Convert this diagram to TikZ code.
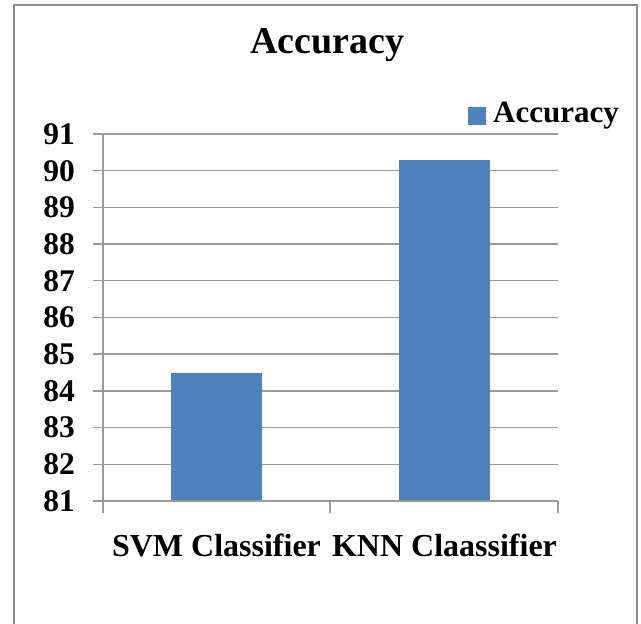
\documentclass[tikz,border=0pt]{standalone}
\usepackage{fontspec}
\setmainfont{Liberation Serif}
\usepackage{xcolor}
\usepackage{tikz}
\usetikzlibrary{calc}
\definecolor{bg}{HTML}{FFFFFF}
\definecolor{frame}{HTML}{8C8C8C}
\definecolor{gridc}{HTML}{9A9A9A}
\definecolor{barc}{HTML}{4F81BD}
\definecolor{text}{HTML}{000000}
\tikzset{
  frm/.style={draw=frame, line width=2pt},
  grid/.style={draw=gridc, line width=1.4pt},
  axis/.style={draw=gridc, line width=1.4pt},
  bar/.style={fill=barc, draw=none},
  lab/.style={text=text, font=\fontsize{31.5}{31.5}\selectfont\bfseries, inner sep=0pt},
  labl/.style={text=text, font=\fontsize{31}{31}\selectfont\bfseries, inner sep=0pt},
  labx/.style={text=text, font=\fontsize{32}{32}\selectfont\bfseries, inner sep=0pt},
  ttl/.style={text=text, font=\fontsize{38}{38}\selectfont\bfseries, inner sep=0pt}
}
\begin{document}
\begin{tikzpicture}[x=1pt,y=1pt]
  \useasboundingbox[fill=bg] (0,0) rectangle (641,624);
  \def\base{123}   % y of value 81
  \def\unit{36.7}  % one unit of accuracy
  \coordinate (O) at (103,\base);
  \coordinate (E) at (558,\base);
  % frame
  \draw[frm] (14,-10) rectangle (637,619);
  % gridlines and y labels
  \foreach \v in {81,...,91}{
    \draw[grid] (93,{\base+(\v-81)*\unit}) -- (558,{\base+(\v-81)*\unit});
    \node[lab,anchor=east] (y\v) at (75,{\base+(\v-81)*\unit}) {\v};
  }
  % bars
  \fill[bar] (171,\base) rectangle (262,{\base+(84.5-81)*\unit});
  \fill[bar] (399,\base) rectangle (490,{\base+(90.3-81)*\unit});
  % axes
  \draw[axis] (103,111) -- (103,{\base+10*\unit});
  \draw[axis] (93,\base) -- (E);
  \foreach \x in {103,330,558}
    \draw[axis] (\x,\base) -- (\x,111);
  % category labels
  \node[labx,anchor=base] (svm) at (216.5,67) {SVM Classifier};
  \node[labx,anchor=base] (knn) at (444.5,67) {KNN Claassifier};
  % title and legend
  \node[ttl,anchor=base] (title) at (327.5,570) {Accuracy};
  \fill[bar] (468,499) rectangle (486,517);
  \node[labl,anchor=base west] (leg) at (493,501) {Accuracy};
\end{tikzpicture}
\end{document}
